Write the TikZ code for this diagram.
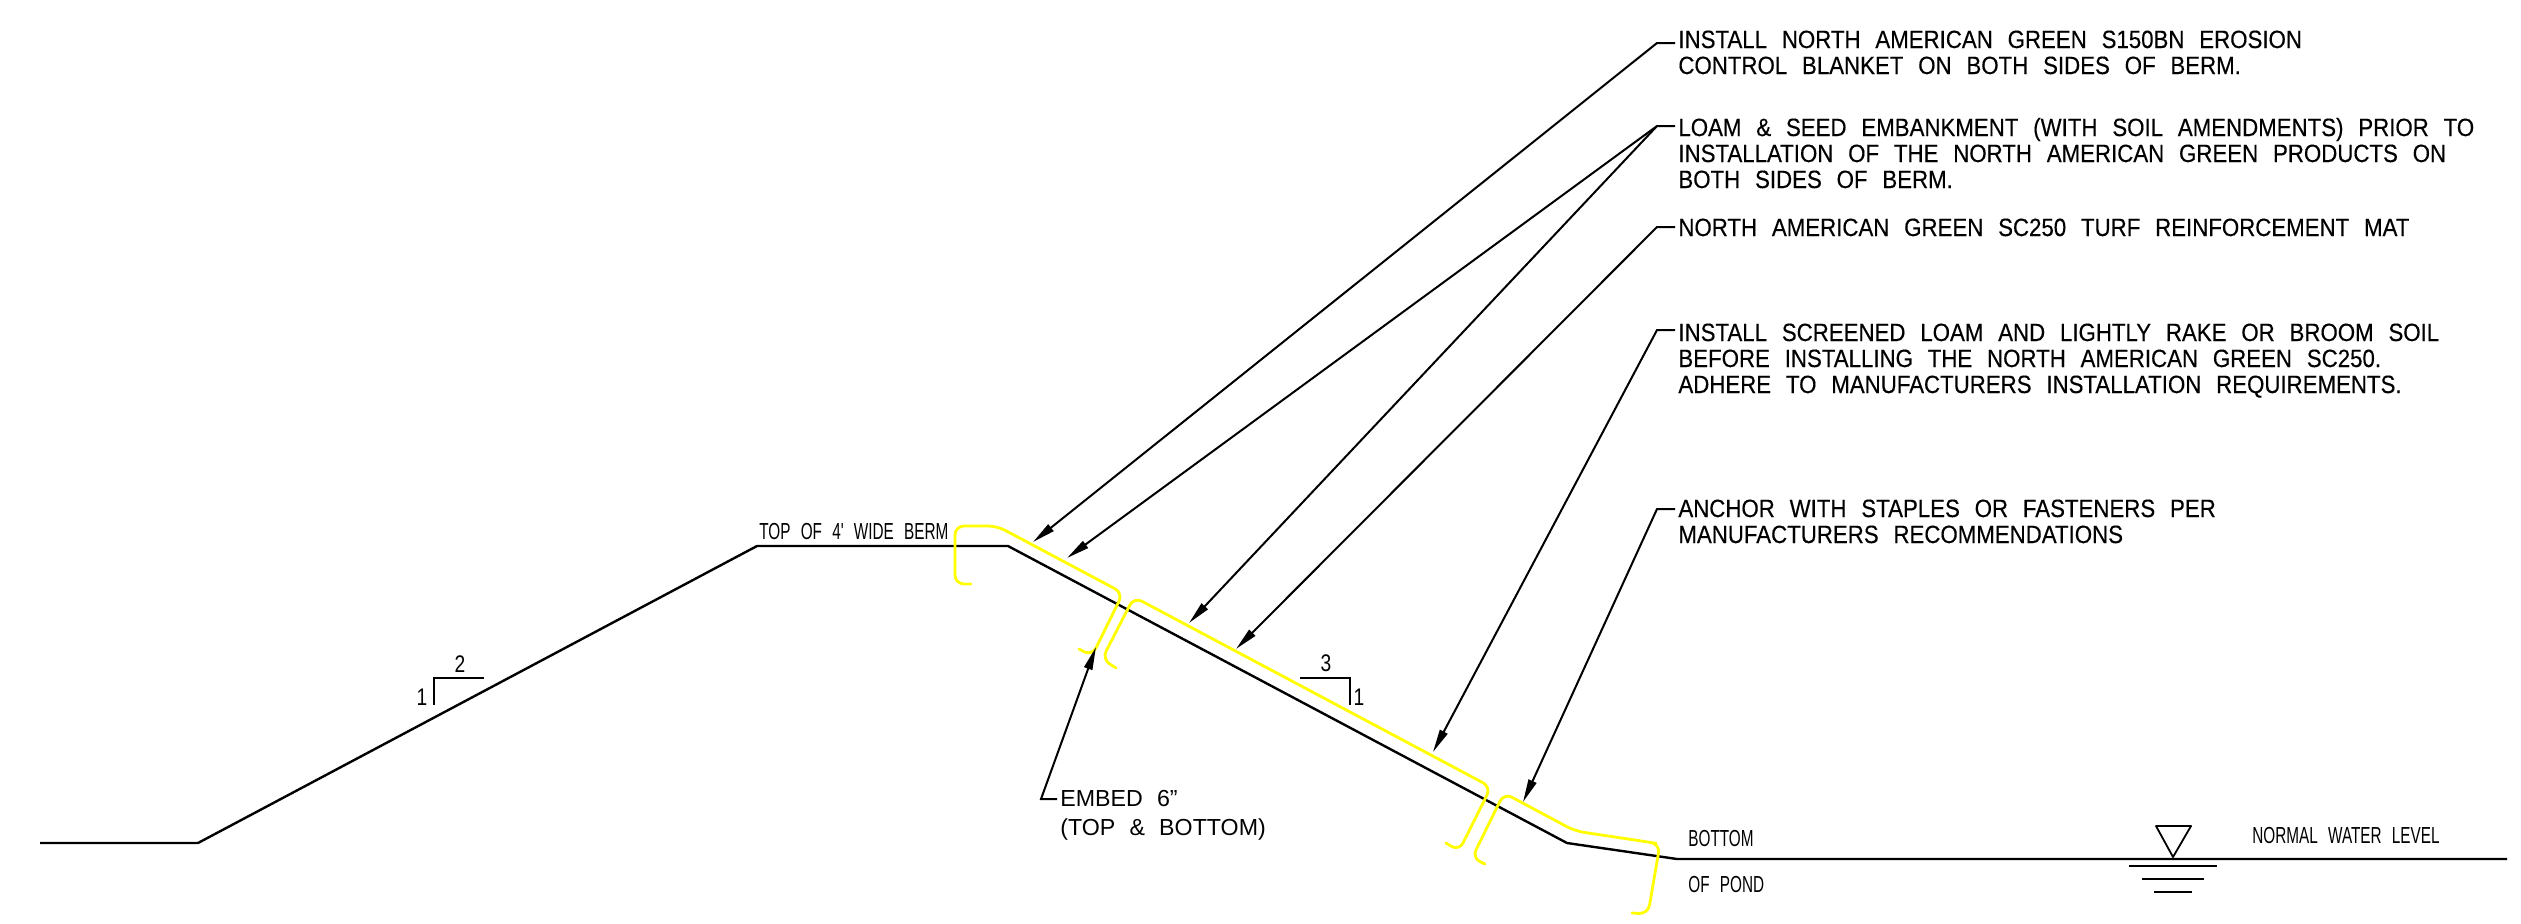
\documentclass[tikz,border=0pt]{standalone}
\usepackage{fontspec}
\usetikzlibrary{arrows.meta}
\newfontfamily\cadbig[FakeStretch=0.89,WordSpace=2.4,FakeBold=0.3]{Liberation Sans}
\newfontfamily\cadmid[FakeStretch=1.0,WordSpace=2.2]{Liberation Sans}
\newfontfamily\cadsmall[FakeStretch=0.66,WordSpace=2.4]{Liberation Sans}
\newfontfamily\caddigit[FakeStretch=0.8]{Liberation Sans}
\definecolor{cadyellow}{RGB}{255,255,0}
\tikzset{
  x=0.5pt,y=-0.5pt,
  ground/.style={draw=black,line width=1.2pt,line join=round},
  fabric/.style={draw=cadyellow,line width=1.4pt,rounded corners=4.5pt,line cap=round},
  leader/.style={draw=black,line width=1pt,-{Triangle[length=11.5pt,width=4.2pt]}},
  thin cad/.style={draw=black,line width=0.9pt},
  notebig/.style={anchor=base west,inner sep=0pt,align=left,font=\cadbig\fontsize{12.5pt}{13pt}\selectfont},
  notemid/.style={anchor=base west,inner sep=0pt,align=left,font=\cadmid\fontsize{11.6pt}{14.5pt}\selectfont},
  notesmall/.style={anchor=base west,inner sep=0pt,font=\cadsmall\fontsize{11.6pt}{13pt}\selectfont},
  digit/.style={inner sep=0pt,font=\caddigit\fontsize{12pt}{13pt}\selectfont},
}
\begin{document}
\begin{tikzpicture}
\useasboundingbox (0,0) rectangle (2521,923);
\fill[white] (0,0) rectangle (2521,923);

% ground line
\coordinate (g0) at (40,843);
\coordinate (g1) at (198,843);
\coordinate (g2) at (757,546);
\coordinate (g3) at (1008,546);
\coordinate (g4) at (1567,843);
\coordinate (g5) at (1677,859);
\coordinate (g6) at (2507,859);
\coordinate (g7) at (1779,859);
\draw[ground] (g0) -- (g1) -- (g2) -- (g3) -- (g4) -- (g5) -- (g6);
\draw[ground,line width=1.4pt] (g5) -- (g7);

% yellow fabric
\draw[fabric] (971,584) -- (955,584) -- (955,526) -- (997,526) -- (1123,593) -- (1092,656) -- (1079,649);
\draw[fabric] (1116,668) -- (1102,659) -- (1134,597) -- (1491,787) -- (1459,851) -- (1446,843);
\draw[fabric] (1485,864) -- (1472,858) -- (1504,793) -- (1575,831) -- (1648,842) -- (1660,844) -- (1648,914) -- (1632,913);

% slope marks
\coordinate (sa) at (484,678);
\coordinate (sb) at (434,678);
\coordinate (sc) at (434,705);
\draw[thin cad] (sa) -- (sb) -- (sc);
\node[digit] (sl2) at (460,664) {2};
\node[digit] (sl1) at (422,697) {1};
\coordinate (sd) at (1300,678);
\coordinate (se) at (1350,678);
\coordinate (sf) at (1350,705);
\draw[thin cad] (sd) -- (se) -- (sf);
\node[digit] (sr3) at (1326,663) {3};
\node[digit] (sr1) at (1359,697) {1};

% water level symbol
\coordinate (wa) at (2156,826);
\coordinate (wb) at (2191,826);
\coordinate (wc) at (2173,857);
\draw[thin cad,line join=round] (wa) -- (wb) -- (wc) -- cycle;
\coordinate (w1a) at (2129,866); \coordinate (w1b) at (2217,866);
\coordinate (w2a) at (2142,879); \coordinate (w2b) at (2204,879);
\coordinate (w3a) at (2154,892); \coordinate (w3b) at (2192,892);
\draw[thin cad] (w1a) -- (w1b);
\draw[thin cad] (w2a) -- (w2b);
\draw[thin cad] (w3a) -- (w3b);

% text
\node[notebig] (n1) at (1678,74) {INSTALL NORTH AMERICAN GREEN S150BN EROSION\\CONTROL BLANKET ON BOTH SIDES OF BERM.};
\node[notebig] (n2) at (1678,188) {LOAM \& SEED EMBANKMENT (WITH SOIL AMENDMENTS) PRIOR TO\\INSTALLATION OF THE NORTH AMERICAN GREEN PRODUCTS ON\\BOTH SIDES OF BERM.};
\node[notebig] (n3) at (1678,236) {NORTH AMERICAN GREEN SC250 TURF REINFORCEMENT MAT};
\node[notebig] (n4) at (1678,393) {INSTALL SCREENED LOAM AND LIGHTLY RAKE OR BROOM SOIL\\BEFORE INSTALLING THE NORTH AMERICAN GREEN SC250.\\ADHERE TO MANUFACTURERS INSTALLATION REQUIREMENTS.};
\node[notebig] (n5) at (1678,543) {ANCHOR WITH STAPLES OR FASTENERS PER\\MANUFACTURERS RECOMMENDATIONS};
\node[notemid] (n6) at (1060,835) {EMBED 6”\\(TOP \& BOTTOM)};
\node[notesmall] (t1) at (759,539) {TOP OF 4' WIDE BERM};
\node[notesmall] (t2) at (1688,846) {BOTTOM};
\node[notesmall] (t3) at (1688,892) {OF POND};
\node[notesmall] (t4) at (2252,843) {NORMAL WATER LEVEL};

% leaders
\coordinate (k1) at (1675,43);  \coordinate (e1) at (1657,43);  \coordinate (a1) at (1033,542);
\coordinate (k2) at (1675,126); \coordinate (e2) at (1657,126); \coordinate (a2) at (1067,558); \coordinate (a3) at (1189,623);
\coordinate (k3) at (1675,227); \coordinate (e3) at (1657,227); \coordinate (a4) at (1236,649);
\coordinate (k4) at (1675,330); \coordinate (e4) at (1657,330); \coordinate (a5) at (1433,752);
\coordinate (k5) at (1675,509); \coordinate (e5) at (1657,509); \coordinate (a6) at (1523,802);
\coordinate (k6) at (1057,799); \coordinate (e6) at (1041,799); \coordinate (a7) at (1096,647);
\draw[leader] (k1) -- (e1) -- (a1);
\draw[leader] (k2) -- (e2) -- (a2);
\draw[leader] (e2) -- (a3);
\draw[leader] (k3) -- (e3) -- (a4);
\draw[leader] (k4) -- (e4) -- (a5);
\draw[leader] (k5) -- (e5) -- (a6);
\draw[leader] (k6) -- (e6) -- (a7);
\end{tikzpicture}
\end{document}
